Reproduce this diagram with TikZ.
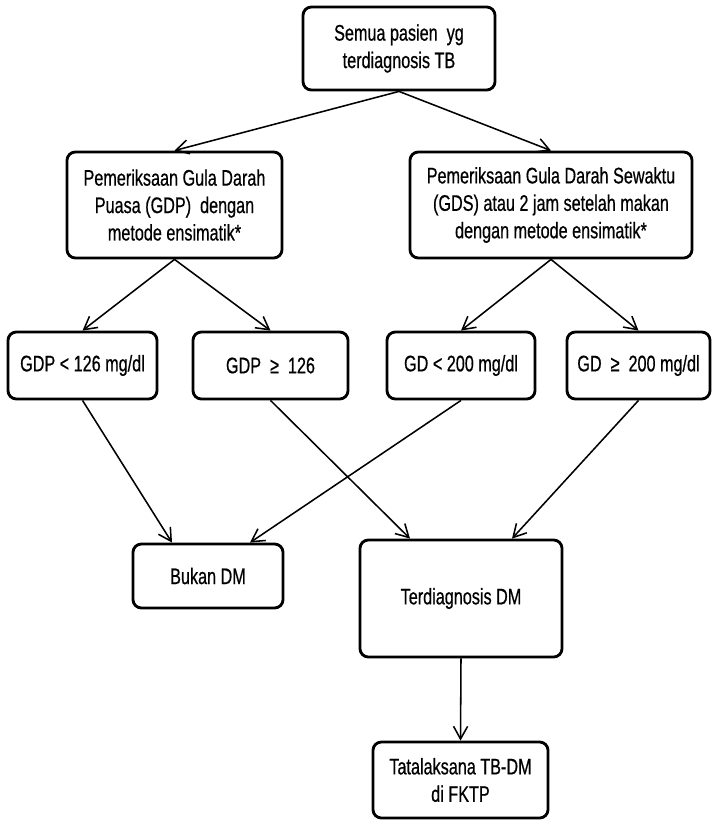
\documentclass[tikz,border=0pt]{standalone}
\usepackage{fontspec}
\setmainfont{Liberation Sans}[FakeStretch=0.72,FakeBold=0.6]
\usetikzlibrary{arrows.meta}

\begin{document}
\begin{tikzpicture}[x=0.025cm,y=-0.025cm,
  box/.style={draw,line width=2pt,rounded corners=6pt,align=center,inner sep=1pt,
    font=\fontsize{16}{19.5}\selectfont},
  link/.style={-{Straight Barb[length=9pt,width=10pt]},line width=1.1pt}]
\useasboundingbox (0,0) rectangle (713,821);
\node[box,minimum width=4.8cm,minimum height=2.075cm] (semua) at (399,48.5) {Semua pasien\ \ yg\\terdiagnosis TB};
\node[box,minimum width=5.375cm,minimum height=2.65cm] (gdp) at (174.5,205) {Pemeriksaan Gula Darah\\Puasa (GDP)\ \ dengan\\metode ensimatik*};
\node[box,minimum width=7.05cm,minimum height=2.65cm] (gds) at (551,205) {Pemeriksaan Gula Darah Sewaktu\\(GDS) atau 2 jam setelah makan\\dengan metode ensimatik*};
\node[box,minimum width=3.725cm,minimum height=1.675cm] (gdpkurang) at (82.5,365.5) {GDP < 126 mg/dl};
\node[box,minimum width=3.875cm,minimum height=1.675cm] (gdplebih) at (270.5,365.5) {GDP\ \ ≥\ \ 126};
\node[box,minimum width=3.7cm,minimum height=1.675cm] (gdkurang) at (461,365.5) {GD < 200 mg/dl};
\node[box,minimum width=3.575cm,minimum height=1.675cm] (gdlebih) at (638.5,365.5) {GD\ \ ≥\ \ 200 mg/dl};
\node[box,minimum width=3.75cm,minimum height=1.6cm] (bukan) at (208,576) {Bukan DM};
\node[box,minimum width=5.05cm,minimum height=2.925cm] (diag) at (461,598.5) {Terdiagnosis DM};
\node[box,minimum width=4.375cm,minimum height=1.9cm] (tata) at (460.5,780) {Tatalaksana TB-DM\\di FKTP};
\draw[link] (semua.south) -- (gdp.north);
\draw[link] (semua.south) -- (gds.north);
\draw[link] (gdp.south) -- (gdpkurang.north);
\draw[link] (gdp.south) -- (gdplebih.north);
\draw[link] (gds.south) -- (gdkurang.north);
\draw[link] (gds.south) -- (gdlebih.north);
\draw[link] (gdpkurang.south) -- ([xshift=-0.9cm]bukan.north);
\draw[link] (gdkurang.south) -- ([xshift=1.05cm]bukan.north);
\draw[link] (gdplebih.south) -- ([xshift=-1.275cm]diag.north);
\draw[link] (gdlebih.south) -- ([xshift=1.275cm]diag.north);
\draw[link] (diag.south) -- (tata.north);
\end{tikzpicture}
\end{document}
